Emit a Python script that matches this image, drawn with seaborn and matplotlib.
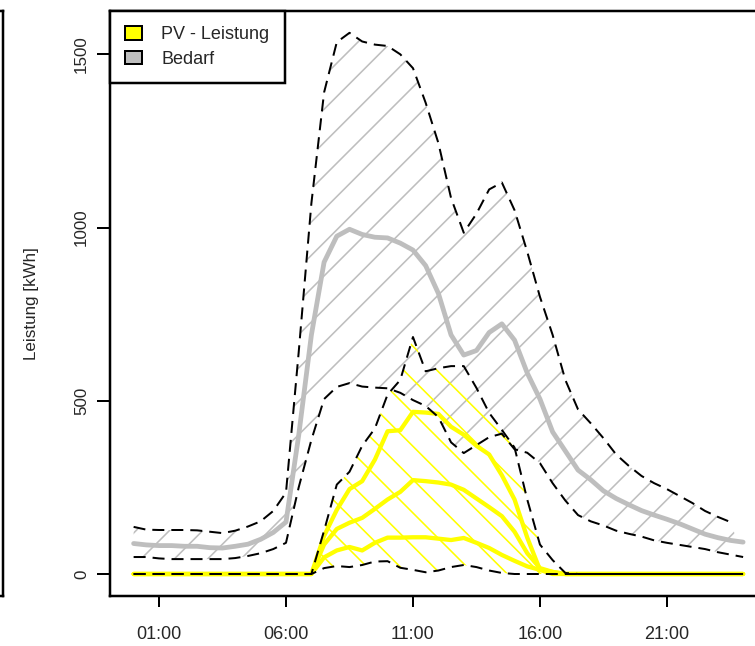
import numpy as np
import pandas as pd
import matplotlib
matplotlib.use("Agg")
import matplotlib.pyplot as plt
import seaborn as sns
from matplotlib.patches import Patch

# ---------------- data ----------------
hours = np.arange(0, 24.5, 0.5)          # half-hour time grid 00:00 .. 24:00

bedarf_mean = [88, 84, 82, 82, 80, 80, 76, 75, 80, 86, 100, 120, 150, 400, 690, 900,
               975, 995, 980, 972, 970, 955, 935, 890, 810, 690, 632, 645, 697, 722,
               675, 580, 505, 410, 355, 300, 272, 240, 218, 200, 183, 170, 158, 145,
               130, 115, 105, 97, 92]
bedarf_max = [136, 128, 127, 127, 127, 126, 122, 118, 125, 137, 152, 182, 235, 640, 1070,
              1390, 1535, 1562, 1537, 1528, 1524, 1500, 1460, 1360, 1244, 1085, 985, 1040,
              1110, 1130, 1050, 930, 800, 690, 560, 475, 435, 392, 345, 312, 283, 262,
              245, 225, 205, 182, 165, 150, np.nan]
bedarf_min = [49, 49, 45, 43, 43, 43, 43, 43, 46, 52, 60, 72, 90, 250, 387, 505, 540, 551,
              541, 538, 536, 523, 502, 485, 453, 380, 349, 372, 395, 405, 360, 350, 320,
              262, 212, 170, 152, 140, 125, 116, 108, 97, 90, 84, 78, 72, 63, 56, 49]

pv_max = [0] * 14 + [0, 125, 258, 295, 370, 420, 518, 560, 684, 585, 594, 600, 600, 537,
                     465, 416, 365, 215, 85, 40, 3] + [0] * 14
pv_min = [0] * 14 + [0, 17, 23, 20, 26, 36, 37, 18, 12, 5, 10, 20, 26, 20, 10, 3, 0, 0,
                     0, 0, 0] + [0] * 14
pv_high = [0] * 14 + [0, 110, 185, 245, 268, 330, 412, 415, 468, 466, 462, 425, 402, 370,
                      345, 285, 215, 105, 12, 0, 0] + [0] * 14
pv_mid = [0] * 14 + [0, 85, 130, 148, 162, 188, 215, 237, 271, 268, 264, 258, 243, 218,
                     193, 167, 122, 60, 17, 6, 0] + [0] * 14
pv_low = [0] * 14 + [0, 48, 68, 78, 68, 90, 105, 105, 106, 106, 102, 98, 104, 90, 75, 55,
                     38, 22, 12, 6, 0] + [0] * 14

tick_pos = [1, 6, 11, 16, 21]
tick_labels = ["01:00", "06:00", "11:00", "16:00", "21:00"]
y_ticks = [0, 500, 1000, 1500]
legend_labels = ["PV - Leistung", "Bedarf"]

# ---------------- style ----------------
W, H, DPI = 755, 646, 100
P = 72.0 / DPI           # points per pixel

sns.set_style("ticks")
plt.rcParams["font.family"] = ["Liberation Sans", "DejaVu Sans"]
plt.rcParams["hatch.linewidth"] = 1.6 * P

fig = plt.figure(figsize=(W / DPI, H / DPI), dpi=DPI)
ax = fig.add_axes([110 / W, 50 / H, 658 / W, 585 / H])

df = pd.DataFrame({"t": hours, "mean": bedarf_mean, "bmax": bedarf_max, "bmin": bedarf_min,
                   "pmax": pv_max, "pmin": pv_min, "p1": pv_high, "p2": pv_mid, "p3": pv_low})

GREY = "#BEBEBE"
YEL = "#FFFF00"

# hatched bands
bm = df.dropna(subset=["bmax"])
ax.fill(np.concatenate([bm["t"], df["t"][::-1]]),
        np.concatenate([bm["bmax"], df["bmin"][::-1]]),
        facecolor="none", edgecolor=GREY, hatch="/", linewidth=0, zorder=1)
ax.fill(np.concatenate([df["t"], df["t"][::-1]]),
        np.concatenate([df["pmax"], df["pmin"][::-1]]),
        facecolor="none", edgecolor=YEL, hatch="\\", linewidth=0, zorder=2)

dash = (0, (6.0, 3.5))
sns.lineplot(data=df, x="t", y="mean", ax=ax, color=GREY, linewidth=4.8 * P, zorder=3)
for col in ["p1", "p2", "p3"]:
    sns.lineplot(data=df, x="t", y=col, ax=ax, color=YEL, linewidth=4.3 * P, zorder=4)
for col in ["bmax", "bmin", "pmax", "pmin"]:
    sns.lineplot(data=df, x="t", y=col, ax=ax, color="black", linewidth=2.0 * P,
                 linestyle=dash, zorder=5)

ax.set_xlim(-0.93, 24.98)
ax.set_ylim(-63.5, 1625)
ax.set_xticks(tick_pos)
ax.set_xticklabels(tick_labels)
ax.set_yticks(y_ticks)
ax.set_yticklabels([str(v) for v in y_ticks], rotation=90, va="center")
ax.tick_params(axis="x", length=11 * P, width=2 * P, pad=19 * P, labelsize=18 * P,
               color="black")
ax.tick_params(axis="y", length=13 * P, width=2 * P, pad=8 * P, labelsize=17 * P,
               color="black")
ax.set_xlabel("")
ax.set_ylabel("Leistung [kWh]", fontsize=17 * P)
ax.yaxis.set_label_coords((39 - 110) / 658, 0.5)
for s in ax.spines.values():
    s.set_visible(True)
    s.set_linewidth(2.5 * P)
    s.set_color("black")

handles = [Patch(facecolor=YEL, edgecolor="black", linewidth=2 * P),
           Patch(facecolor=GREY, edgecolor="black", linewidth=2 * P)]
leg = ax.legend(handles, legend_labels, loc="upper left", borderaxespad=0,
                fancybox=False, framealpha=1, edgecolor="black", fontsize=18 * P,
                handlelength=0.9, handleheight=0.75, handletextpad=1.1,
                borderpad=0.85, labelspacing=0.4)
leg.get_frame().set_linewidth(2.5 * P)
leg.set_zorder(10)

# right edge of neighbouring panel
ax0 = fig.add_axes([-0.5, 50 / H, 0.5 + 3.5 / W, 585 / H])
ax0.set_xticks([])
ax0.set_yticks([])
for s in ax0.spines.values():
    s.set_linewidth(2.5 * P)
    s.set_color("black")

fig.savefig("out.png", dpi=DPI)
